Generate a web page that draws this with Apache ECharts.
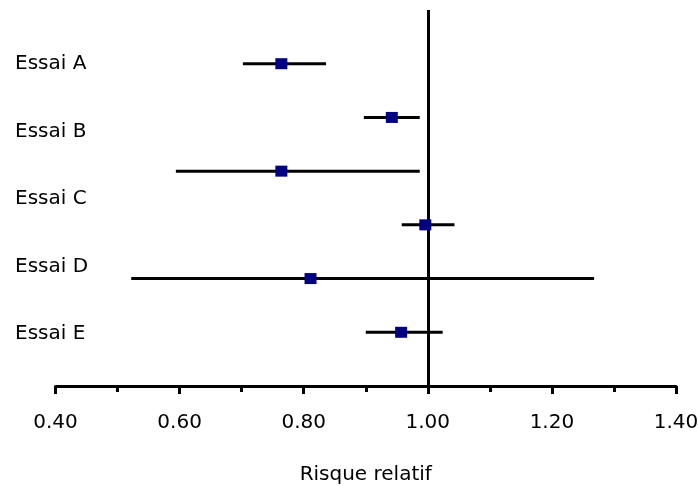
<!DOCTYPE html>
<html>
<head>
<meta charset="utf-8">
<script src="https://cdn.jsdelivr.net/npm/echarts@6/dist/echarts.min.js"></script>
<style>
  html, body { margin: 0; padding: 0; background: #fff; }
  #main { width: 698px; height: 486px; }
</style>
</head>
<body>
<div id="main"></div>
<script>
// libellés des essais (colonne de gauche)
var trialLabels = ['Essai A', 'Essai B', 'Essai C', 'Essai D', 'Essai E'];
// risque relatif estimé + IC, de haut en bas
var estimates = [0.764, 0.942, 0.764, 0.996, 0.811, 0.957];
var lowerCI   = [0.702, 0.897, 0.594, 0.958, 0.522, 0.900];
var upperCI   = [0.836, 0.987, 0.987, 1.043, 1.268, 1.024];
var xTicks = { min: 0.4, max: 1.4, step: 0.2 };

var n = estimates.length;
var pointData = estimates.map(function (v, i) { return [v, n - i]; });
var ciData = estimates.map(function (v, i) { return [lowerCI[i], upperCI[i], n - i]; });

var font = 'DejaVu Sans';
var chart = echarts.init(document.getElementById('main'));

chart.setOption({
    animation: false,
    backgroundColor: '#fff',
    grid: [
        { left: 55.5, right: 22, top: 10, bottom: 100, outerBoundsMode: 'none', containLabel: false },
        { left: 100, right: 22, top: 30, bottom: 118, outerBoundsMode: 'none', containLabel: false }
    ],
    xAxis: [{
        type: 'value',
        gridIndex: 0,
        min: xTicks.min,
        max: xTicks.max,
        interval: xTicks.step,
        name: 'Risque relatif',
        nameLocation: 'middle',
        nameGap: 79,
        nameTextStyle: { color: '#000', fontFamily: font, fontSize: 20 },
        axisLine: { lineStyle: { color: '#000', width: 3 } },
        axisTick: { show: true, length: 8, lineStyle: { color: '#000', width: 3 } },
        minorTick: { show: true, splitNumber: 2, length: 6, lineStyle: { color: '#000', width: 3 } },
        splitLine: { show: false },
        axisLabel: {
            color: '#000', fontFamily: font, fontSize: 20, margin: 27,
            formatter: function (v) { return v.toFixed(2); }
        }
    }, {
        type: 'value',
        gridIndex: 1,
        show: false
    }],
    yAxis: [{
        type: 'value',
        gridIndex: 0,
        min: 0,
        max: 7,
        show: false
    }, {
        type: 'category',
        gridIndex: 1,
        data: trialLabels,
        inverse: true,
        axisLine: { show: false },
        axisTick: { show: false },
        splitLine: { show: false },
        axisLabel: {
            color: '#000', fontFamily: font, fontSize: 20,
            align: 'left', margin: 85
        }
    }],
    series: [{
        type: 'custom',
        xAxisIndex: 0,
        yAxisIndex: 0,
        data: ciData,
        encode: { x: [0, 1], y: 2 },
        renderItem: function (params, api) {
            var a = api.coord([api.value(0), api.value(2)]);
            var b = api.coord([api.value(1), api.value(2)]);
            return {
                type: 'line',
                shape: { x1: a[0], y1: a[1], x2: b[0], y2: b[1] },
                style: { stroke: '#000', lineWidth: 3 }
            };
        },
        z: 2
    }, {
        type: 'scatter',
        xAxisIndex: 0,
        yAxisIndex: 0,
        data: pointData,
        symbol: 'rect',
        symbolSize: [12, 11],
        itemStyle: { color: '#000080', opacity: 1 },
        z: 5,
        markLine: {
            silent: true,
            symbol: ['none', 'none'],
            label: { show: false },
            lineStyle: { color: '#000', width: 3, type: 'solid' },
            data: [{ xAxis: 1 }]
        }
    }]
});
</script>
</body>
</html>
